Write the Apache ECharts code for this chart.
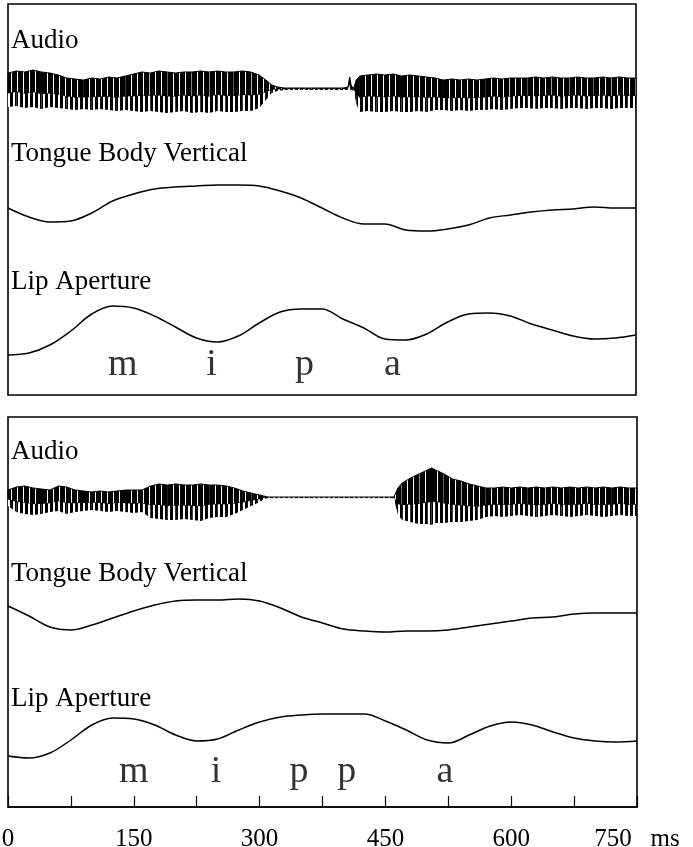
<!DOCTYPE html>
<html>
<head>
<meta charset="utf-8">
<script src="https://cdn.jsdelivr.net/npm/echarts@6/dist/echarts.min.js"></script>
<style>
  html, body { margin: 0; background: #fff; }
  #chart { width: 693px; height: 847px; }
</style>
</head>
<body>
<div id="chart"></div>
<script>
// sample times (ms) for the articulator traces
const curveTimes = [0, 25, 50, 75, 100, 125, 150, 175, 200, 225, 250, 275, 300, 325, 350,
  375, 400, 425, 450, 475, 500, 525, 550, 575, 600, 625, 650, 675, 700, 725, 750];

// upper panel (mipa) - heights in panel units
const tongueTop = [187, 178, 173, 174, 182, 194, 201, 206, 208, 209, 210, 210, 209, 204, 197,
  187, 177, 171, 171, 165, 164, 166, 170, 177, 180, 183, 185, 186, 188, 187, 187];
const lipTop = [40, 42, 50, 64, 81, 89, 87, 79, 68, 57, 53, 59, 72, 83, 86,
  86, 76, 67, 56, 55, 61, 73, 81, 82, 79, 71, 65, 59, 56, 57, 60];

// lower panel (mippa)
const tongueBottom = [201, 191, 180, 177, 182, 189, 196, 202, 206, 207, 207, 208, 206, 199, 190,
  184, 178, 176, 175, 176, 176, 177, 180, 183, 186, 189, 190, 193, 194, 194, 194];
const lipBottom = [51, 49, 54, 67, 82, 89, 88, 82, 72, 66, 68, 77, 85, 90, 92,
  93, 93, 93, 86, 77, 67, 64, 72, 81, 85, 82, 75, 69, 66, 65, 66];

// audio envelopes: time, upper edge, lower edge
const audioTopTimes = [0, 10, 20, 30, 40, 50, 60, 70, 80, 90, 100, 110, 120, 130, 140, 150, 160, 170, 180, 190,
  200, 210, 220, 230, 240, 250, 260, 270, 280, 290, 300, 308, 315, 322, 330, 360, 400, 406, 408, 410, 413, 416,
  420, 430, 440, 450, 460, 470, 480, 490, 500, 510, 520, 530, 540, 550, 560, 570, 580, 590, 600,
  610, 620, 630, 640, 650, 660, 670, 680, 690, 700, 710, 720, 730, 740, 750];
const audioTopHi = [322, 324, 323, 325, 323, 322, 320, 317, 316, 315, 317, 316, 318, 317, 319, 321, 323, 322, 324, 323,
  322, 323, 323, 324, 323, 324, 323, 323, 324, 323, 320, 315, 310, 308, 307, 307, 307, 308, 318, 309, 307, 315,
  319, 320, 321, 320, 321, 319, 320, 319, 318, 317, 315, 316, 315, 316, 315, 316, 317, 316, 317,
  317, 317, 318, 317, 318, 317, 317, 318, 317, 317, 318, 317, 318, 317, 317];
const audioTopLo = [288, 289, 287, 288, 286, 288, 287, 286, 285, 286, 285, 286, 285, 284, 285, 284, 283, 284, 283, 282,
  283, 284, 282, 283, 282, 284, 283, 283, 284, 284, 287, 295, 302, 304, 305, 305, 305, 305, 305, 305, 304, 291,
  283, 284, 283, 283, 284, 283, 283, 284, 283, 285, 285, 284, 285, 284, 285, 285, 286, 285, 286,
  287, 287, 286, 287, 287, 286, 287, 287, 286, 287, 287, 286, 287, 287, 287];

const audioBottomTimes = [0, 10, 20, 30, 40, 50, 60, 70, 80, 90, 100, 110, 120, 130, 140, 150, 160, 170, 180, 190,
  200, 210, 220, 230, 240, 250, 260, 270, 280, 290, 300, 305, 310, 460, 465, 470, 480, 490, 500, 505, 510,
  520, 530, 540, 550, 560, 570, 580, 590, 600, 610, 620, 630, 640, 650, 660, 670, 680, 690, 700,
  710, 720, 730, 740, 750];
const audioBottomHi = [317, 320, 321, 319, 318, 317, 321, 320, 317, 316, 315, 316, 315, 316, 317, 317, 317, 321, 323, 322,
  323, 322, 322, 323, 322, 322, 321, 319, 316, 314, 312, 311, 310, 310, 319, 324, 329, 333, 337, 339, 337,
  333, 328, 326, 323, 321, 319, 319, 320, 319, 320, 319, 320, 319, 320, 319, 320, 319, 320, 319,
  320, 319, 320, 319, 319];
const audioBottomLo = [301, 295, 293, 292, 293, 295, 296, 293, 295, 296, 297, 296, 295, 296, 295, 294, 295, 289, 288, 287,
  287, 288, 287, 286, 289, 290, 290, 293, 297, 301, 305, 308, 309, 309, 292, 287, 285, 283, 283, 282, 284,
  284, 285, 285, 286, 287, 290, 291, 290, 291, 292, 291, 290, 291, 292, 291, 290, 291, 292, 291,
  290, 291, 292, 291, 291];

// phoneme labels
const phonemesTop = ['m', 'i', 'p', 'a'];
const phonemeTopTimes = [137, 243, 354, 459];
const phonemesBottom = ['m', 'i', 'p', 'p', 'a'];
const phonemeBottomTimes = [150, 248, 347, 404, 521];

const serif = 'Liberation Serif, Times New Roman, serif';
const chart = echarts.init(document.getElementById('chart'));

// vertical stripe fills to mimic the pitch pulses of the waveform
function stripes(black, white) {
  const c = document.createElement('canvas');
  c.width = black + white;
  c.height = 4;
  const ctx = c.getContext('2d');
  ctx.fillStyle = '#fff';
  ctx.fillRect(0, 0, c.width, 4);
  ctx.fillStyle = '#000';
  ctx.fillRect(0, 0, black, 4);
  return { image: c, repeat: 'repeat' };
}
const denseFill = stripes(5, 1);
const sparseFill = stripes(3, 2);

function audioSeries(times, hi, lo, idx) {
  return {
    type: 'custom',
    xAxisIndex: idx,
    yAxisIndex: idx,
    data: times.map((t, i) => [t, hi[i], lo[i]]),
    encode: { x: 0, y: [1, 2] },
    renderItem: function (params, api) {
      const i = params.dataIndex;
      if (i >= times.length - 1) return null;
      const j = i + 1;
      // solid-ish core in the upper part, strands below it
      const midI = hi[i] - 0.6 * (hi[i] - lo[i]);
      const midJ = hi[j] - 0.6 * (hi[j] - lo[j]);
      return {
        type: 'group',
        children: [
          {
            type: 'polygon',
            shape: { points: [api.coord([times[i], hi[i]]), api.coord([times[j], hi[j]]),
              api.coord([times[j], midJ]), api.coord([times[i], midI])] },
            style: { fill: denseFill, stroke: '#000', lineWidth: 1 }
          },
          {
            type: 'polygon',
            shape: { points: [api.coord([times[i], midI]), api.coord([times[j], midJ]),
              api.coord([times[j], lo[j]]), api.coord([times[i], lo[i]])] },
            style: { fill: sparseFill }
          }
        ]
      };
    }
  };
}

function traceSeries(values, idx) {
  return {
    type: 'line',
    xAxisIndex: idx,
    yAxisIndex: idx,
    data: curveTimes.map((t, i) => [t, values[i]]),
    smooth: 0.35,
    symbol: 'none',
    lineStyle: { color: '#000', width: 1.5 }
  };
}

function phonemeSeries(names, times, level, idx) {
  return {
    type: 'scatter',
    xAxisIndex: idx,
    yAxisIndex: idx,
    symbolSize: 0,
    data: names.map((n, i) => ({ name: n, value: [times[i], level] })),
    label: {
      show: true,
      position: 'inside',
      formatter: '{b}',
      fontFamily: serif,
      fontSize: 38,
      color: '#000'
    }
  };
}

const titleStyle = { fontFamily: serif, fontSize: 27, fontWeight: 'normal', color: '#000' };
const panelTitles = [
  ['Audio', 27], ['Tongue Body Vertical', 140], ['Lip Aperture', 268],
  ['Audio', 438], ['Tongue Body Vertical', 560], ['Lip Aperture', 685]
];

chart.setOption({
  animation: false,
  backgroundColor: '#fff',
  title: panelTitles.map(p => ({ text: p[0], left: 11, top: p[1], padding: 0, textStyle: titleStyle })),
  grid: [
    { left: 8, top: 4, width: 628, height: 391, outerBoundsMode: 'none',
      show: true, borderColor: '#000', borderWidth: 1.6 },
    { left: 8, top: 417, width: 629, height: 390, outerBoundsMode: 'none',
      show: true, borderColor: '#000', borderWidth: 1.6 }
  ],
  xAxis: [
    { gridIndex: 0, type: 'value', min: 0, max: 750, show: false },
    {
      gridIndex: 1, type: 'value', min: 0, max: 750, interval: 75,
      axisLine: { show: true, lineStyle: { color: '#000', width: 1.6 } },
      axisTick: { show: true, inside: true, length: 11, lineStyle: { color: '#000', width: 1.2 } },
      splitLine: { show: false },
      axisLabel: {
        margin: 20,
        fontFamily: serif,
        fontSize: 25,
        color: '#000',
        formatter: v => (v % 150 !== 0 ? '' : (v === 750 ? '750   ms' : String(v)))
      }
    }
  ],
  yAxis: [
    { gridIndex: 0, type: 'value', min: 0, max: 391, show: false },
    { gridIndex: 1, type: 'value', min: 0, max: 390, show: false }
  ],
  series: [
    audioSeries(audioTopTimes, audioTopHi, audioTopLo, 0),
    traceSeries(tongueTop, 0),
    traceSeries(lipTop, 0),
    phonemeSeries(phonemesTop, phonemeTopTimes, 30, 0),
    audioSeries(audioBottomTimes, audioBottomHi, audioBottomLo, 1),
    traceSeries(tongueBottom, 1),
    traceSeries(lipBottom, 1),
    phonemeSeries(phonemesBottom, phonemeBottomTimes, 35, 1)
  ]
});
</script>
</body>
</html>
